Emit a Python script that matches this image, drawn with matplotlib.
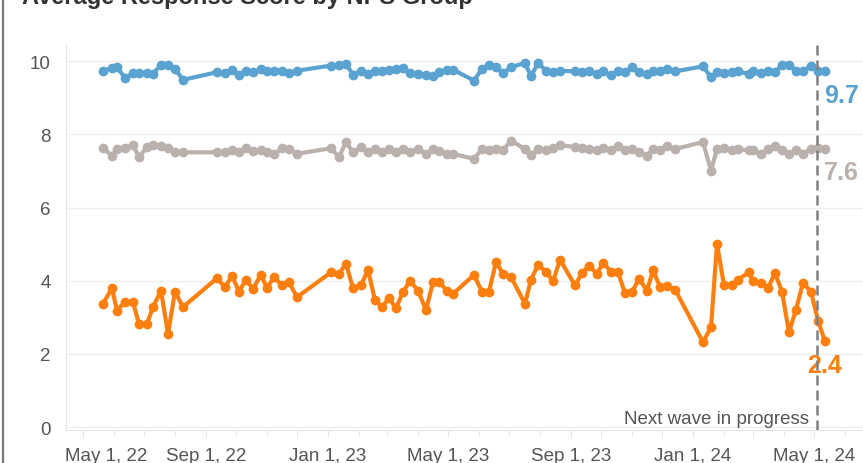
import matplotlib
matplotlib.use("Agg")
import matplotlib.pyplot as plt
import matplotlib.dates as mdates
from matplotlib.lines import Line2D
from matplotlib.transforms import ScaledTranslation
import pandas as pd

# survey waves
dates = [
    "2022-05-21", "2022-05-30", "2022-06-04", "2022-06-12", "2022-06-20", "2022-06-26",
    "2022-07-04", "2022-07-10", "2022-07-18", "2022-07-25", "2022-08-01", "2022-08-09",
    "2022-09-12", "2022-09-20", "2022-09-27", "2022-10-04", "2022-10-11", "2022-10-18",
    "2022-10-26", "2022-11-01", "2022-11-08", "2022-11-16", "2022-11-23", "2022-12-01",
    "2023-01-04", "2023-01-12", "2023-01-19", "2023-01-26", "2023-02-03", "2023-02-10",
    "2023-02-17", "2023-02-24", "2023-03-03", "2023-03-10", "2023-03-17", "2023-03-24",
    "2023-04-01", "2023-04-09", "2023-04-16", "2023-04-22", "2023-04-30", "2023-05-06",
    "2023-05-27", "2023-06-04", "2023-06-11", "2023-06-18", "2023-06-25", "2023-07-03",
    "2023-07-17", "2023-07-23", "2023-07-30", "2023-08-07", "2023-08-14", "2023-08-21",
    "2023-09-05", "2023-09-12", "2023-09-19", "2023-09-27", "2023-10-03", "2023-10-11",
    "2023-10-18", "2023-10-25", "2023-11-01", "2023-11-08", "2023-11-16", "2023-11-22",
    "2023-11-29", "2023-12-06", "2023-12-14",
    "2024-01-11", "2024-01-19", "2024-01-25", "2024-02-01", "2024-02-09", "2024-02-15",
    "2024-02-26", "2024-03-01", "2024-03-09", "2024-03-16", "2024-03-23", "2024-03-30",
    "2024-04-06", "2024-04-13", "2024-04-20", "2024-04-28", "2024-05-05", "2024-05-12",
]

promoters = [
    9.74, 9.81, 9.84, 9.54, 9.67, 9.67, 9.67, 9.66, 9.90, 9.90, 9.79, 9.49,
    9.70, 9.67, 9.77, 9.63, 9.72, 9.70, 9.78, 9.74, 9.74, 9.74, 9.67, 9.74,
    9.88, 9.90, 9.93, 9.63, 9.74, 9.65, 9.72, 9.74, 9.77, 9.79, 9.81, 9.68,
    9.65, 9.61, 9.59, 9.70, 9.77, 9.77,
    9.47, 9.79, 9.90, 9.84, 9.67, 9.84, 9.95, 9.59, 9.95, 9.74, 9.70, 9.74,
    9.72, 9.70, 9.74, 9.65, 9.72, 9.61, 9.74, 9.70, 9.84, 9.70, 9.65, 9.74,
    9.72, 9.79, 9.72,
    9.86, 9.56, 9.70, 9.69, 9.70, 9.72, 9.65, 9.74, 9.69, 9.72, 9.70, 9.90,
    9.90, 9.74, 9.72, 9.88, 9.74, 9.72,
]

passives = [
    7.62, 7.42, 7.60, 7.62, 7.71, 7.38, 7.65, 7.71, 7.69, 7.62, 7.51, 7.51,
    7.51, 7.51, 7.58, 7.51, 7.62, 7.54, 7.56, 7.51, 7.45, 7.62, 7.60, 7.47,
    7.62, 7.38, 7.79, 7.51, 7.65, 7.51, 7.60, 7.51, 7.60, 7.51, 7.60, 7.51,
    7.60, 7.47, 7.60, 7.54, 7.47, 7.47,
    7.33, 7.60, 7.56, 7.60, 7.56, 7.83, 7.60, 7.44, 7.60, 7.56, 7.62, 7.71,
    7.65, 7.62, 7.60, 7.56, 7.62, 7.56, 7.69, 7.58, 7.60, 7.51, 7.42, 7.60,
    7.56, 7.67, 7.60,
    7.79, 7.01, 7.60, 7.62, 7.56, 7.60, 7.56, 7.56, 7.47, 7.60, 7.69, 7.56,
    7.47, 7.56, 7.47, 7.60, 7.62, 7.60,
]

detractors = [
    3.37, 3.80, 3.18, 3.43, 3.41, 2.82, 2.82, 3.28, 3.73, 2.55, 3.70, 3.28,
    4.07, 3.82, 4.14, 3.70, 4.03, 3.78, 4.16, 3.80, 4.10, 3.87, 3.96, 3.55,
    4.23, 4.19, 4.46, 3.80, 3.87, 4.30, 3.46, 3.29, 3.52, 3.25, 3.69, 4.00,
    3.73, 3.20, 3.96, 3.96, 3.73, 3.64,
    4.16, 3.70, 3.70, 4.51, 4.19, 4.10, 3.37, 4.03, 4.43, 4.25, 3.98, 4.58,
    3.87, 4.21, 4.41, 4.19, 4.49, 4.25, 4.23, 3.66, 3.69, 4.05, 3.73, 4.28,
    3.84, 3.85, 3.76,
    2.32, 2.73, 5.01, 3.87, 3.89, 4.03, 4.23, 3.98, 3.94, 3.80, 4.21, 3.70,
    2.59, 3.21, 3.94, 3.70, 2.91, 2.34,
]

end_labels = ["9.7", "7.6", "2.4"]
tick_dates = ["2022-05-01", "2022-09-01", "2023-01-01", "2023-05-01",
              "2023-09-01", "2024-01-01", "2024-05-01"]
tick_labels = ["May 1, 22", "Sep 1, 22", "Jan 1, 23", "May 1, 23",
               "Sep 1, 23", "Jan 1, 24", "May 1, 24"]
wave_line = "2024-05-04"
title = "Average Response Score by NPS Group"

BLUE = "#5aa2cf"
GREY = "#bab0ac"
ORANGE = "#ff7f0e"
LABEL_FONT = ["Liberation Sans Narrow", "Liberation Sans", "DejaVu Sans"]
BOLD_FONT = ["Liberation Sans", "DejaVu Sans"]

x = pd.to_datetime(dates)

fig = plt.figure(figsize=(8.63, 4.64), dpi=100)
ax = fig.add_axes([66 / 863, 33 / 464, 1 - 66 / 863, 386 / 464])

for vals, col in [(promoters, BLUE), (passives, GREY), (detractors, ORANGE)]:
    ax.plot(x, vals, color=col, lw=3, marker="o", ms=6, mec=col, zorder=3)

ax.set_ylim(-0.08, 10.47)
ax.set_xlim(pd.Timestamp("2022-04-14"), pd.Timestamp("2024-06-19"))
ax.set_yticks([0, 2, 4, 6, 8, 10])
ax.grid(axis="y", color="#efefef", lw=1)
ax.set_axisbelow(True)

for s in ["top", "right"]:
    ax.spines[s].set_visible(False)
for s in ["left", "bottom"]:
    ax.spines[s].set_color("#e4e4e4")

ax.set_xticks(pd.to_datetime(tick_dates), tick_labels)
ax.xaxis.set_minor_locator(mdates.MonthLocator())
ax.tick_params(axis="x", which="both", length=5, color="#e4e4e4", pad=7,
               labelsize=13.5, labelcolor="#555555")
ax.tick_params(axis="y", length=0, pad=11, labelsize=13.5, labelcolor="#555555")
for lbl in ax.get_xticklabels() + ax.get_yticklabels():
    lbl.set_family(LABEL_FONT)
first = ax.get_xticklabels()[0]
first.set_transform(first.get_transform() + ScaledTranslation(0.23, 0, fig.dpi_scale_trans))

# next wave marker
ax.axvline(pd.Timestamp(wave_line), color="#808080", lw=1.8, ls=(0, (4, 2)), zorder=4)
ax.annotate("Next wave in progress", xy=(pd.Timestamp(wave_line), 0), xytext=(-8, 9),
            textcoords="offset pixels", ha="right", va="center", fontsize=13.5,
            color="#555555", family=LABEL_FONT)

# end labels
ax.annotate(end_labels[0], xy=(x[-1], promoters[-1]), xytext=(-1, -24),
            textcoords="offset pixels", ha="left", va="center", fontsize=18,
            fontweight="bold", color=BLUE, family=BOLD_FONT)
ax.annotate(end_labels[1], xy=(x[-1], passives[-1]), xytext=(-1, -23),
            textcoords="offset pixels", ha="left", va="center", fontsize=18,
            fontweight="bold", color=GREY, family=BOLD_FONT)
ax.annotate(end_labels[2], xy=(x[-1], detractors[-1]), xytext=(-1, -24),
            textcoords="offset pixels", ha="center", va="center", fontsize=18,
            fontweight="bold", color=ORANGE, family=BOLD_FONT)

# cut-off title and dashboard frame line
fig.text(22 / 863, 1 - 4 / 464, title, va="baseline", ha="left", fontsize=17,
         fontweight="bold", color="#333333", family=BOLD_FONT)
fig.add_artist(Line2D([3 / 863, 3 / 863], [0, 1], color="#777777", lw=1.6))

fig.savefig("out.png", dpi=100)
